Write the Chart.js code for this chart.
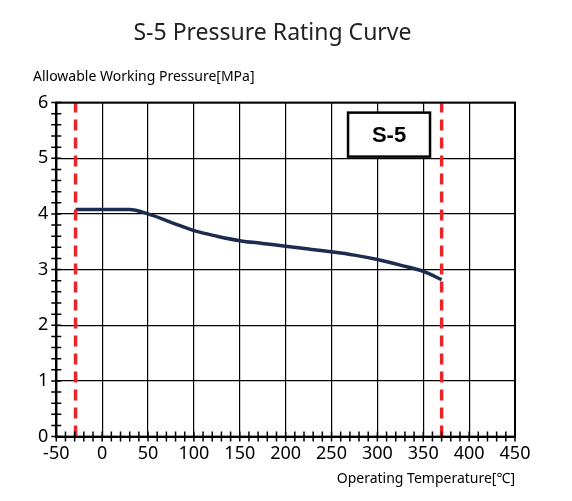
<!DOCTYPE html><html><head><script src="https://cdn.jsdelivr.net/npm/chart.js"></script>
<style>body{margin:0;background:#fff}#w{width:572px;height:501px}</style></head><body><div id="w"><canvas id="c"></canvas></div>
<script>
const tempX=[-29,0,30,50,75,100,125,150,175,200,225,250,275,300,325,350,370];
const pressY=[4.08,4.08,4.08,4.0,3.85,3.7,3.6,3.52,3.47,3.42,3.37,3.32,3.26,3.18,3.08,2.97,2.82];
const limitLines=[-29,370];
const boxLabel='S-5';
const minorTicks={
 id:'minor',
 afterDraw(ch){
  const c=ch.ctx,x=ch.scales.x,y=ch.scales.y,a=ch.chartArea;
  c.save();c.strokeStyle='#000';c.lineWidth=1.5;c.beginPath();
  for(let v=-50;v<=450;v+=10){const p=x.getPixelForValue(v);c.moveTo(p,a.bottom-5);c.lineTo(p,a.bottom+5);}
  for(let v=0;v<=6.001;v+=0.2){const p=y.getPixelForValue(v);c.moveTo(a.left-5,p);c.lineTo(a.left+5,p);}
  c.stroke();
  c.lineWidth=2;c.strokeRect(a.left,a.top,a.right-a.left,a.bottom-a.top);
  const bx=x.getPixelForValue(268),by=y.getPixelForValue(5.82);
  c.fillStyle='#fff';c.fillRect(bx,by,82,44);
  c.lineWidth=2.5;c.strokeRect(bx,by,82,44);
  c.fillStyle='#000';c.font='bold 22px "Liberation Sans"';c.textAlign='center';c.textBaseline='middle';
  c.fillText(boxLabel,bx+41,by+23);
  c.restore();
 }
};
new Chart(document.getElementById('c'),{
 type:'scatter',
 data:{datasets:[
  {data:tempX.map((v,i)=>({x:v,y:pressY[i]})),showLine:true,borderColor:'#1b2c4f',borderWidth:3.5,pointRadius:0,cubicInterpolationMode:'monotone',order:1},
  ...limitLines.map(v=>({data:[{x:v,y:0},{x:v,y:6}],showLine:true,borderColor:'#e8262a',borderWidth:3.5,borderDash:[11,7],pointRadius:0,order:0}))
 ]},
 options:{responsive:true,maintainAspectRatio:false,animation:false,
  layout:{padding:{left:30,right:57,top:5,bottom:10}},
  plugins:{legend:{display:false},tooltip:{enabled:false},
   title:{display:true,text:'S-5 Pressure Rating Curve',color:'#222',font:{size:23,family:'Noto Sans',weight:'normal'},padding:{top:15,bottom:55}}},
  scales:{
   x:{type:'linear',min:-50,max:450,ticks:{stepSize:50,color:'#000',font:{size:18,family:'Noto Sans'},padding:6},
      grid:{color:'#000',lineWidth:1.2,drawTicks:false},border:{color:'#000',width:2},
      title:{display:true,text:'Operating Temperature[℃]',align:'end',color:'#000',font:{size:14,family:'Noto Sans'},padding:{top:0}}},
   y:{min:0,max:6,ticks:{stepSize:1,color:'#000',font:{size:18,family:'Noto Sans'},padding:8},
      grid:{color:'#000',lineWidth:1.2,drawTicks:false},border:{color:'#000',width:2},
      title:{display:false}}
  }},
 plugins:[minorTicks,{id:'ytitle',afterDraw(ch){const c=ch.ctx;c.save();c.fillStyle='#000';c.font='14px "Noto Sans"';c.textBaseline='middle';c.fillText('Allowable Working Pressure[MPa]',33,77);c.restore();}}]
});
</script></body></html>
